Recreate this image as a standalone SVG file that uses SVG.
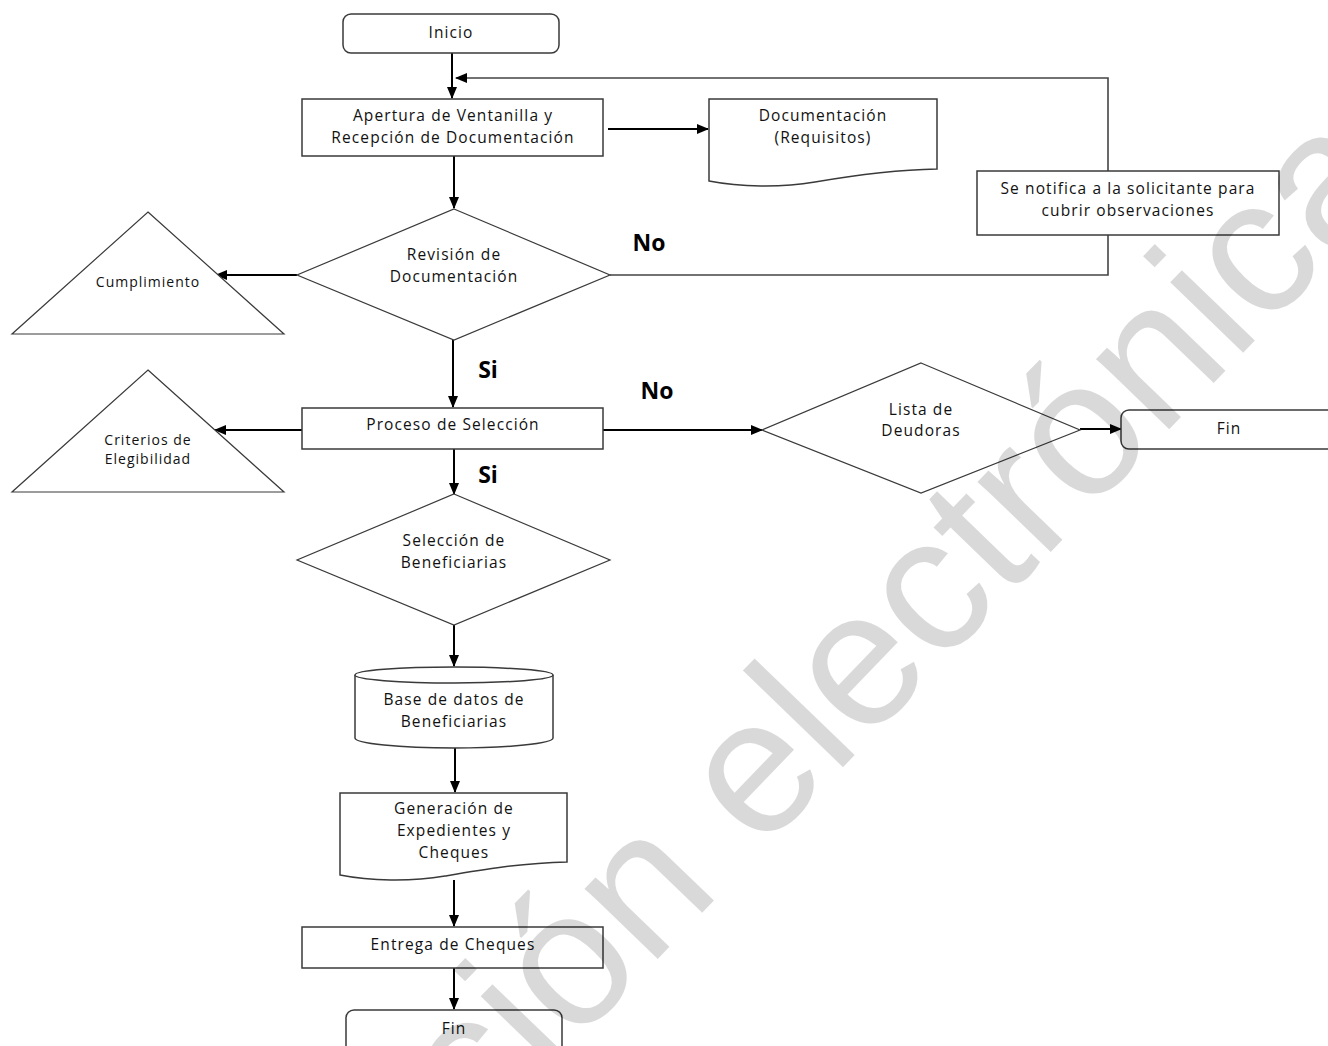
<svg xmlns="http://www.w3.org/2000/svg" width="1328" height="1046" viewBox="0 0 1328 1046">
<defs>
<marker id="ah" markerUnits="userSpaceOnUse" markerWidth="12" markerHeight="10" refX="11" refY="5" orient="auto">
<path d="M0,0 L12,5 L0,10 z" fill="#000"/>
</marker>
<clipPath id="genclip"><path d="M340,793 H567 V862 C520,863 480,870 445,876 C410,882 370,881 340,875 Z"/></clipPath>
<style>
.shape{fill:#fff;stroke:#3a3a3a;stroke-width:1.5}
.thin{fill:#fff;stroke:#3a3a3a;stroke-width:1.2}
.t{font-family:"Open Sans","Liberation Sans",sans-serif;font-size:15.5px;letter-spacing:1.1px;fill:#111;text-anchor:middle}
.s{font-size:14px;letter-spacing:1px}
.lbl{font-family:"Open Sans","Liberation Sans",sans-serif;font-size:23px;font-weight:bold;fill:#000;text-anchor:middle}
.c{fill:none;stroke:#000;stroke-width:2}
.fb{fill:none;stroke:#444;stroke-width:1.6}
.wm{font-family:"Liberation Sans",Arial,sans-serif;font-size:192px;fill:#000;fill-opacity:0.15}
</style>
</defs>
<rect width="1328" height="1046" fill="#fff"/>

<g id="connectors">
<path class="fb" d="M610,275 H1108 V78 H456" marker-end="url(#ah)"/>
<line class="c" x1="452" y1="53" x2="452" y2="98" marker-end="url(#ah)"/>
<line class="c" x1="608" y1="129" x2="708" y2="129" marker-end="url(#ah)"/>
<line class="c" x1="454" y1="156" x2="454" y2="208" marker-end="url(#ah)"/>
<line class="c" x1="297" y1="275" x2="216" y2="275" marker-end="url(#ah)"/>
<line class="c" x1="453" y1="340" x2="453" y2="407" marker-end="url(#ah)"/>
<line class="c" x1="302" y1="430" x2="215" y2="430" marker-end="url(#ah)"/>
<line class="c" x1="603" y1="430" x2="762" y2="430" marker-end="url(#ah)"/>
<line class="c" x1="1080" y1="429" x2="1121" y2="429" marker-end="url(#ah)"/>
<line class="c" x1="454" y1="449" x2="454" y2="494" marker-end="url(#ah)"/>
<line class="c" x1="454" y1="625" x2="454" y2="666" marker-end="url(#ah)"/>
<line class="c" x1="455" y1="748" x2="455" y2="792" marker-end="url(#ah)"/>
<line class="c" x1="454" y1="880" x2="454" y2="926" marker-end="url(#ah)"/>
<line class="c" x1="454" y1="968" x2="454" y2="1009" marker-end="url(#ah)"/>
</g>

<g id="inicio">
<rect class="shape" x="343" y="14" width="216" height="39" rx="8"/>
<text class="t" x="451" y="38">Inicio</text>
</g>
<g id="apertura">
<rect class="shape" x="302" y="99" width="301" height="57"/>
<text class="t" x="453" y="121">Apertura de Ventanilla y</text>
<text class="t" x="453" y="143">Recepción de Documentación</text>
</g>
<g id="documentacion">
<path class="shape" d="M709,99 H937 V169 C890,170 850,176 815,182 C780,188 740,187 709,181 Z"/>
<text class="t" x="823" y="121">Documentación</text>
<text class="t" x="823" y="143">(Requisitos)</text>
</g>
<g id="notifica">
<rect class="shape" x="977" y="171" width="302" height="64"/>
<text class="t" x="1128" y="194">Se notifica a la solicitante para</text>
<text class="t" x="1128" y="216">cubrir observaciones</text>
</g>
<g id="revision">
<polygon class="thin" points="454,209 610,275 454,340 297,275"/>
<text class="t" x="454" y="260">Revisión de</text>
<text class="t" x="454" y="282">Documentación</text>
</g>
<g id="cumplimiento">
<polygon class="thin" points="148,212 284,334 12,334"/>
<text class="t s" x="148" y="287">Cumplimiento</text>
</g>
<g id="proceso">
<rect class="shape" x="302" y="408" width="301" height="41"/>
<text class="t" x="453" y="430">Proceso de Selección</text>
</g>
<g id="criterios">
<polygon class="thin" points="148,370 284,492 12,492"/>
<text class="t s" x="148" y="445">Criterios de</text>
<text class="t s" x="148" y="464">Elegibilidad</text>
</g>
<g id="lista">
<polygon class="thin" points="921,363 1080,430 921,493 762,430"/>
<text class="t" x="921" y="415">Lista de</text>
<text class="t" x="921" y="436">Deudoras</text>
</g>
<g id="fin1">
<rect class="shape" x="1121" y="410" width="240" height="39" rx="8"/>
<text class="t" x="1229" y="434">Fin</text>
</g>
<g id="seleccion">
<polygon class="thin" points="454,494 610,560 454,625 297,560"/>
<text class="t" x="454" y="546">Selección de</text>
<text class="t" x="454" y="568">Beneficiarias</text>
</g>
<g id="basedatos">
<path class="shape" d="M355,675 V738 A99,10 0 0 0 553,738 V675"/>
<ellipse class="shape" cx="454" cy="675" rx="99" ry="8"/>
<text class="t" x="454" y="705">Base de datos de</text>
<text class="t" x="454" y="727">Beneficiarias</text>
</g>
<g id="generacion">
<path class="shape" d="M340,793 H567 V862 C520,863 480,870 445,876 C410,882 370,881 340,875 Z"/>
<g clip-path="url(#genclip)">
<text class="t" x="454" y="814">Generación de</text>
<text class="t" x="454" y="836">Expedientes y</text>
<text class="t" x="454" y="858">Cheques</text>
</g>
</g>
<g id="entrega">
<rect class="shape" x="302" y="927" width="301" height="41"/>
<text class="t" x="453" y="950">Entrega de Cheques</text>
</g>
<g id="fin2">
<rect class="shape" x="346" y="1010" width="216" height="50" rx="8"/>
<text class="t" x="454" y="1034">Fin</text>
</g>

<g id="labels">
<text class="lbl" x="649" y="251">No</text>
<text class="lbl" x="488" y="378">Si</text>
<text class="lbl" x="657" y="399">No</text>
<text class="lbl" x="488" y="483">Si</text>
</g>

<text class="wm" transform="translate(478,1145) rotate(-46)">ción electrónica</text>
</svg>
